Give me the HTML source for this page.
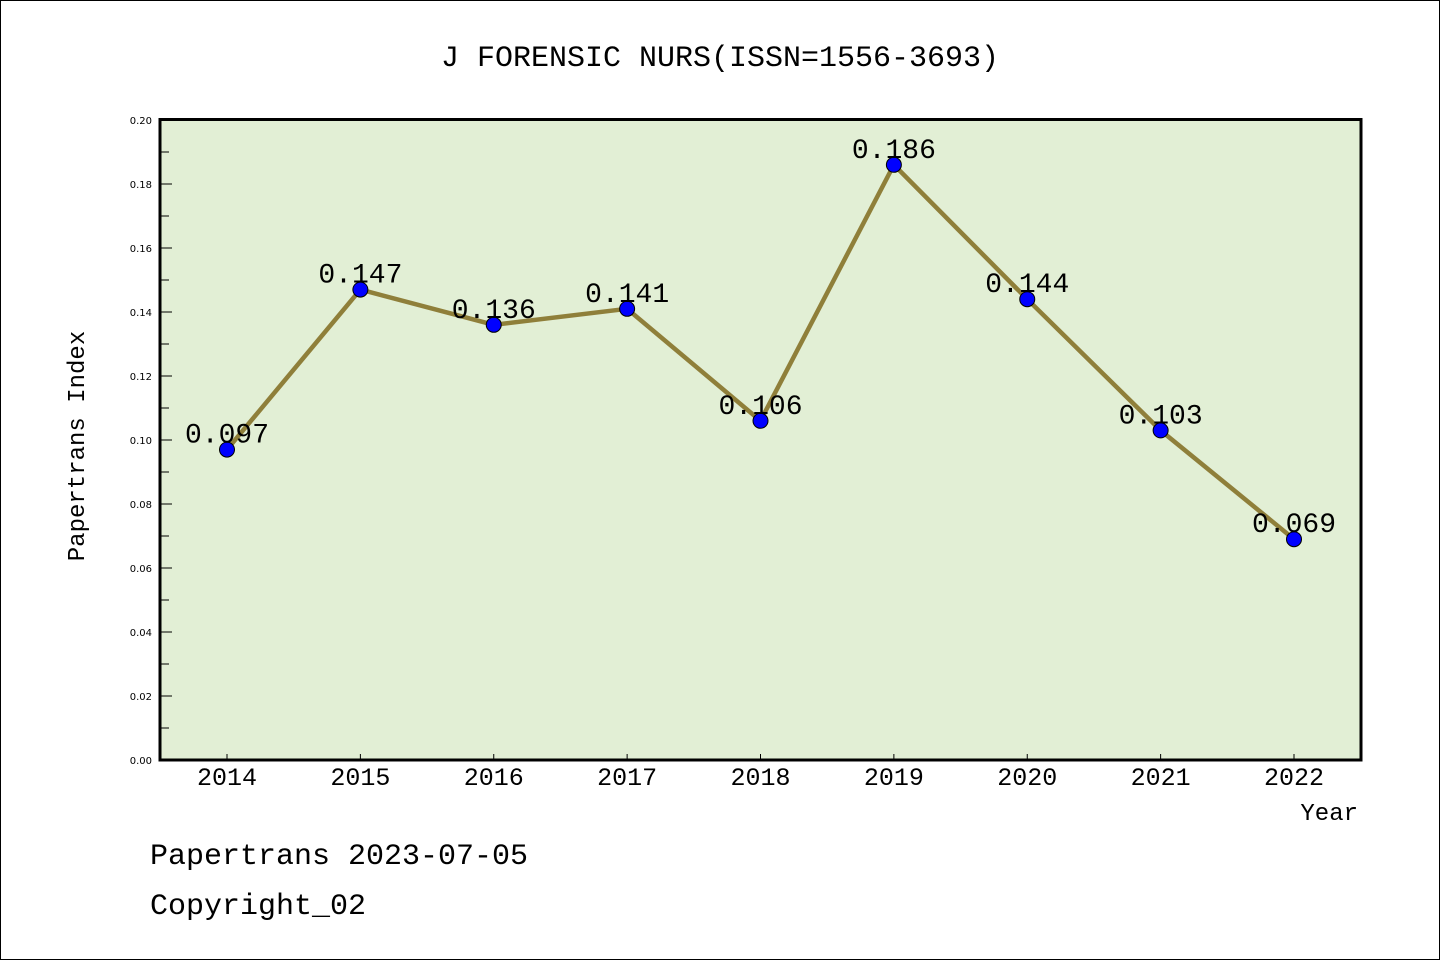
<!DOCTYPE html>
<html><head><meta charset="utf-8"><style>
html,body{margin:0;padding:0;background:#fff}
svg{display:block}
text{font-family:"WenQuanYi Zen Hei Mono","Liberation Mono",monospace;fill:#000}
text.tk{font-family:"DejaVu Sans","Liberation Sans",sans-serif}
</style></head><body>
<svg id="chart" width="1440" height="960">
<rect x="0.5" y="0.5" width="1439" height="959" fill="#fff" stroke="#000"/>
<text x="720" y="66" font-size="30" text-anchor="middle">J FORENSIC NURS(ISSN=1556-3693)</text>
<rect x="160" y="119.5" width="1201" height="640.5" fill="#e2efd5"/>
<g id="axes"></g>
<g id="series"></g>
<rect x="160" y="119.5" width="1201" height="640.5" fill="none" stroke="#000" stroke-width="3"/>
<text x="84" y="446" font-size="24" text-anchor="middle" transform="rotate(-90 84 446)">Papertrans Index</text>
<text x="1358" y="820" font-size="24" text-anchor="end">Year</text>
<text x="150" y="864" font-size="30">Papertrans 2023-07-05</text>
<text x="150" y="914" font-size="30">Copyright_02</text>
</svg>
<script>
const years=[2014,2015,2016,2017,2018,2019,2020,2021,2022];
const values=[0.097,0.147,0.136,0.141,0.106,0.186,0.144,0.103,0.069];
const labels=["0.097","0.147","0.136","0.141","0.106","0.186","0.144","0.103","0.069"];
const yTicks=[0,0.02,0.04,0.06,0.08,0.10,0.12,0.14,0.16,0.18,0.20];
const yTickLabels=["0.00","0.02","0.04","0.06","0.08","0.10","0.12","0.14","0.16","0.18","0.20"];
const NS="http://www.w3.org/2000/svg";
const x=i=>227+(1294-227)*i/(years.length-1);
const y=v=>760-v*3200;
function mk(tag,attrs,parent){const e=document.createElementNS(NS,tag);for(const k in attrs)e.setAttribute(k,attrs[k]);parent.appendChild(e);return e;}
const axes=document.getElementById('axes'),ser=document.getElementById('series');
yTicks.forEach((v,i)=>{
  let t=mk('line',{x1:160,x2:172,y1:y(v),y2:y(v),stroke:'#000','stroke-width':1},axes);
  
  
  let l=mk('text',{x:152,y:y(v)+4,'font-size':10,'text-anchor':'end',class:'tk'},axes);
  l.textContent=yTickLabels[i];
  
  
  if(i<yTicks.length-1){
    const m=(v+yTicks[i+1])/2;
    let mt=mk('line',{x1:160,x2:169,y1:y(m),y2:y(m),stroke:'#000','stroke-width':1},axes);
    
    
  }
});
years.forEach((yr,i)=>{
  let t=mk('line',{x1:x(i),x2:x(i),y1:760,y2:754,stroke:'#000','stroke-width':1},axes);
  
  
  let l=mk('text',{x:x(i),y:785,'font-size':25,'text-anchor':'middle'},axes);
  l.textContent=yr;
  
  
});
const pl=mk('polyline',{points:values.map((v,i)=>x(i)+','+y(v)).join(' '),fill:'none',stroke:'#8f7f3a','stroke-width':4.5},ser);


values.forEach((v,i)=>{
  let c=mk('circle',{cx:x(i),cy:y(v),r:7.5,fill:'#0000ff',stroke:'#000','stroke-width':1},ser);
  
  
  let l=mk('text',{x:x(i),y:y(v)-7,'font-size':28,'text-anchor':'middle'},ser);
  l.textContent=labels[i];
  
  
});
</script>
</body></html>
